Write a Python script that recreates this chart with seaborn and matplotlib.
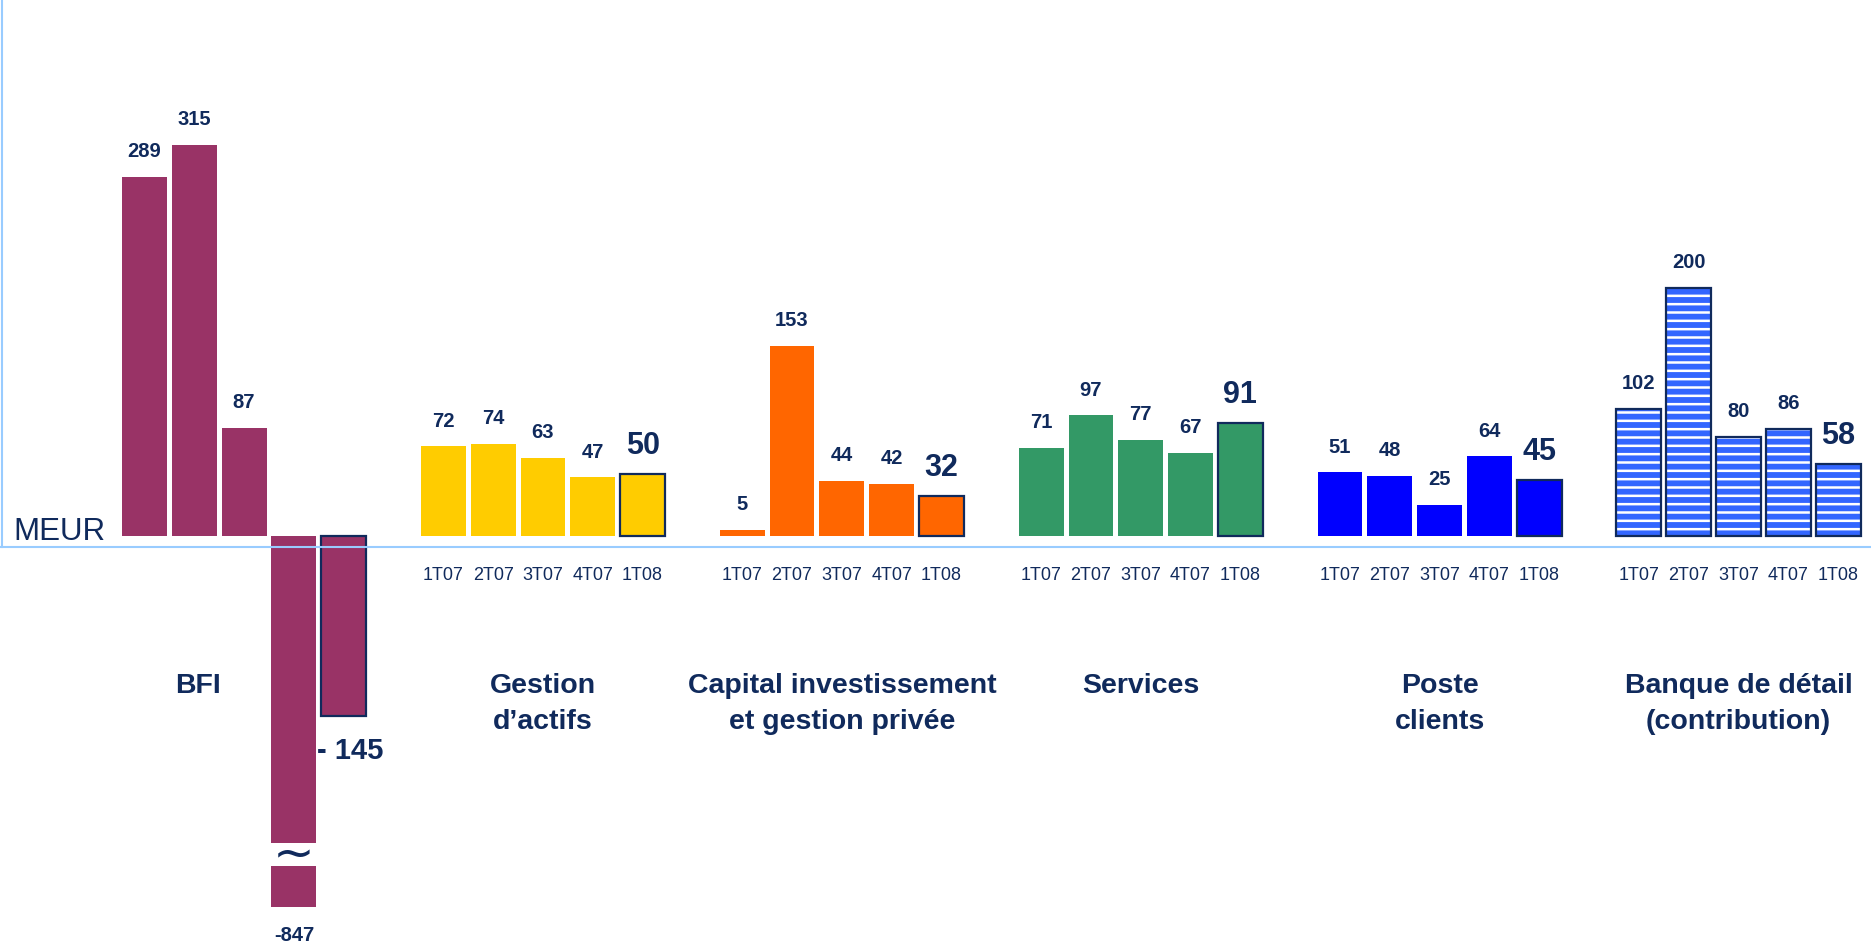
import numpy as np
import pandas as pd
import matplotlib
matplotlib.use("Agg")
import matplotlib.pyplot as plt
import matplotlib.transforms as mtransforms
from matplotlib.patches import Rectangle
import seaborn as sns

# ---------------- data ----------------
quarters = ["1T07", "2T07", "3T07", "4T07", "1T08"]
segments = [
    "BFI",
    "Gestion\nd’actifs",
    "Capital investissement\net gestion privée",
    "Services",
    "Poste\nclients",
    "Banque de détail\n(contribution)",
]
bfi = [289, 315, 87, -847, -145]
gestion = [72, 74, 63, 47, 50]
capital = [5, 153, 44, 42, 32]
services = [71, 97, 77, 67, 91]
poste = [51, 48, 25, 64, 45]
banque = [102, 200, 80, 86, 58]
unit_label = "MEUR"

series = [bfi, gestion, capital, services, poste, banque]
colors = ["#993366", "#FFCC00", "#FF6600", "#339966", "#0000FF", "#3366FF"]
NAVY = "#102A5C"
LIGHTBLUE = "#99CCFF"

# axis break for the clipped bar (data units)
BREAK_TOP = -247.6
BREAK_BOTTOM = -266.2

# ---------------- frame ----------------
rows = []
for g, (seg, vals) in enumerate(zip(segments, series)):
    for q, (qt, v) in enumerate(zip(quarters, vals)):
        rows.append({"pos": g * 6 + q, "value": v, "segment": seg,
                     "quarter": qt, "g": g, "q": q})
df = pd.DataFrame(rows)

sns.set_style("white")
plt.rcParams["font.family"] = ["Liberation Sans", "DejaVu Sans"]
plt.rcParams["hatch.linewidth"] = 1.8

fig = plt.figure(figsize=(18.71, 9.45), dpi=100)
ax = fig.add_axes([0, 37 / 945, 1, 908 / 945])

sns.barplot(data=df, x="pos", y="value", hue="segment",
            palette=dict(zip(segments, colors)), native_scale=True,
            width=0.9, dodge=False, errorbar=None, saturation=1,
            legend=False, ax=ax)

ax.set_xlim(-2.90, 34.66)
ax.set_ylim(-299.4, 432.8)

# map bars to data
lookup = {int(r.pos): r for r in df.itertuples()}
bars = {}
for p in ax.patches:
    c = p.get_x() + p.get_width() / 2
    bars[int(round(c))] = p

for pos, p in bars.items():
    r = lookup[pos]
    p.set_linewidth(0)
    if r.g == 5 or r.q == 4:
        p.set_edgecolor(NAVY)
        p.set_linewidth(1.6)
    if r.g == 5:
        p.set_facecolor(colors[5])
        p.set_hatch("--")
        p._hatch_color = (1, 1, 1, 1)

# value labels
for pos, p in bars.items():
    r = lookup[pos]
    c = p.get_x() + p.get_width() / 2
    big = r.q == 4
    fs = 22 if big else 14.5
    if r.value >= 0:
        ax.annotate(f"{r.value}", xy=(c, r.value), xytext=(0, 15),
                    textcoords="offset points", ha="center", va="baseline",
                    fontsize=fs, fontweight="bold", color=NAVY)
    elif r.value < ax.get_ylim()[0]:
        # clipped bar: break marker and label under the visible end
        ax.add_patch(Rectangle((p.get_x() - 0.02, BREAK_BOTTOM),
                               p.get_width() + 0.04, BREAK_TOP - BREAK_BOTTOM,
                               facecolor="white", edgecolor="none", zorder=5))
        ax.text(c, (BREAK_TOP + BREAK_BOTTOM) / 2, "~", ha="center",
                va="center", fontsize=36, color=NAVY, zorder=6,
                family="DejaVu Sans")
        ax.annotate(f"{r.value}", xy=(c, ax.get_ylim()[0]), xytext=(0, -13),
                    textcoords="offset points", ha="center", va="top",
                    fontsize=14.5, fontweight="bold", color=NAVY,
                    annotation_clip=False)
    else:
        ax.annotate(f"- {abs(r.value)}", xy=(c, r.value), xytext=(5, -15),
                    textcoords="offset points", ha="center", va="top",
                    fontsize=21, fontweight="bold", color=NAVY)

# x ticks (quarters); the BFI group carries none in the original
ax.set_xticks(df["pos"].tolist())
ax.set_xticklabels(["" if g == 0 else qt for g, qt in zip(df["g"], df["quarter"])])
ax.tick_params(axis="x", length=0, pad=13.6, labelsize=13, labelcolor=NAVY)
ax.set_yticks([])
ax.set_xlabel("")
ax.set_ylabel("")

# axis lines
for s in ["top", "right"]:
    ax.spines[s].set_visible(False)
ax.spines["bottom"].set_position(("data", -8.8))
ax.spines["bottom"].set_color(LIGHTBLUE)
ax.spines["bottom"].set_linewidth(1.5)
ax.spines["left"].set_position(("outward", -1.2))
ax.spines["left"].set_bounds(-8.8, 432.8)
ax.spines["left"].set_color(LIGHTBLUE)
ax.spines["left"].set_linewidth(1.5)

# group labels
for g, seg in enumerate(segments):
    x = g * 6 + (1.07 if g == 0 else 2)
    ax.text(x, -110, seg, ha="center", va="top", fontsize=20.5,
            fontweight="bold", color=NAVY, linespacing=1.47,
            multialignment="center")

# unit label
trans = mtransforms.blended_transform_factory(ax.transAxes, ax.transData)
ax.text(0.007, -2.7, unit_label, transform=trans, ha="left", va="baseline",
        fontsize=22.5, color=NAVY)

fig.savefig("out.png", dpi=100)
